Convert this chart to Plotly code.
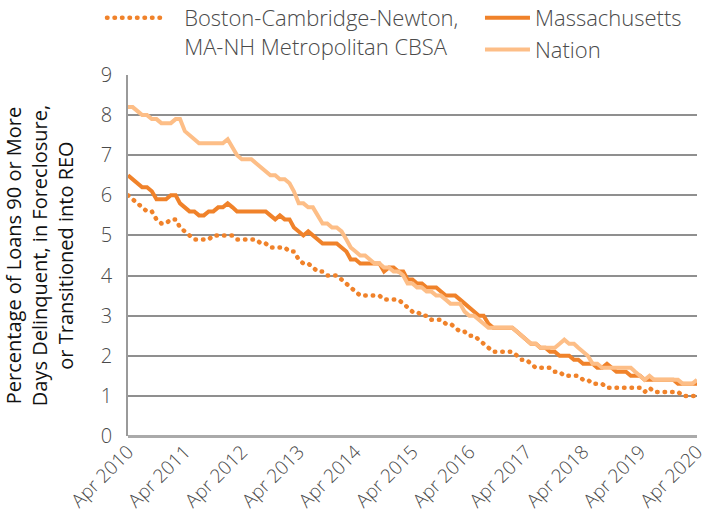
import pandas as pd
import plotly.graph_objects as go

start_month = "2010-04-01"

nation = [
    8.2, 8.2, 8.1, 8.0, 8.0, 7.9, 7.9, 7.8, 7.8, 7.8, 7.9, 7.9,
    7.6, 7.5, 7.4, 7.3, 7.3, 7.3, 7.3, 7.3, 7.3, 7.4, 7.2, 7.0,
    6.9, 6.9, 6.9, 6.8, 6.7, 6.6, 6.5, 6.5, 6.4, 6.4, 6.3, 6.1,
    5.8, 5.8, 5.7, 5.7, 5.5, 5.3, 5.3, 5.2, 5.2, 5.1, 4.9, 4.7,
    4.6, 4.5, 4.5, 4.4, 4.3, 4.3, 4.2, 4.2, 4.1, 4.1, 4.0, 3.8,
    3.8, 3.7, 3.7, 3.6, 3.6, 3.5, 3.5, 3.4, 3.3, 3.3, 3.3, 3.1,
    3.0, 3.0, 2.9, 2.8, 2.7, 2.7, 2.7, 2.7, 2.7, 2.7, 2.6, 2.5,
    2.4, 2.3, 2.3, 2.2, 2.2, 2.2, 2.2, 2.3, 2.4, 2.3, 2.3, 2.2,
    2.1, 2.0, 1.8, 1.8, 1.7, 1.7, 1.7, 1.7, 1.7, 1.7, 1.7, 1.6,
    1.5, 1.4, 1.5, 1.4, 1.4, 1.4, 1.4, 1.4, 1.4, 1.3, 1.3, 1.3, 1.4,
]

massachusetts = [
    6.5, 6.4, 6.3, 6.2, 6.2, 6.1, 5.9, 5.9, 5.9, 6.0, 6.0, 5.8,
    5.7, 5.6, 5.6, 5.5, 5.5, 5.6, 5.6, 5.7, 5.7, 5.8, 5.7, 5.6,
    5.6, 5.6, 5.6, 5.6, 5.6, 5.6, 5.5, 5.4, 5.5, 5.4, 5.4, 5.2,
    5.1, 5.0, 5.1, 5.0, 4.9, 4.8, 4.8, 4.8, 4.8, 4.7, 4.6, 4.4,
    4.4, 4.3, 4.3, 4.3, 4.3, 4.3, 4.1, 4.2, 4.2, 4.1, 4.1, 3.9,
    3.9, 3.8, 3.8, 3.7, 3.7, 3.7, 3.6, 3.5, 3.5, 3.5, 3.4, 3.3,
    3.2, 3.1, 3.0, 3.0, 2.8, 2.7, 2.7, 2.7, 2.7, 2.7, 2.6, 2.5,
    2.4, 2.3, 2.3, 2.2, 2.2, 2.1, 2.1, 2.0, 2.0, 2.0, 1.9, 1.9,
    1.8, 1.8, 1.8, 1.7, 1.7, 1.8, 1.7, 1.6, 1.6, 1.6, 1.5, 1.5,
    1.5, 1.4, 1.4, 1.4, 1.4, 1.4, 1.4, 1.4, 1.3, 1.3, 1.3, 1.3, 1.3,
]

boston = [
    6.0, 5.9, 5.8, 5.7, 5.6, 5.6, 5.4, 5.3, 5.3, 5.4, 5.4, 5.2,
    5.1, 5.0, 4.9, 4.9, 4.9, 4.9, 5.0, 5.0, 5.0, 5.0, 5.0, 4.9,
    4.9, 4.9, 4.9, 4.9, 4.8, 4.8, 4.7, 4.7, 4.7, 4.7, 4.6, 4.6,
    4.4, 4.3, 4.3, 4.2, 4.1, 4.1, 4.0, 4.0, 4.0, 3.9, 3.8, 3.7,
    3.6, 3.5, 3.5, 3.5, 3.5, 3.5, 3.4, 3.4, 3.4, 3.4, 3.3, 3.2,
    3.1, 3.1, 3.0, 3.0, 2.9, 2.9, 2.9, 2.8, 2.8, 2.7, 2.6, 2.6,
    2.5, 2.5, 2.4, 2.3, 2.2, 2.1, 2.1, 2.1, 2.1, 2.1, 2.0, 1.9,
    1.9, 1.8, 1.7, 1.7, 1.7, 1.7, 1.6, 1.6, 1.5, 1.5, 1.5, 1.5,
    1.4, 1.4, 1.3, 1.3, 1.3, 1.2, 1.2, 1.2, 1.2, 1.2, 1.2, 1.2,
    1.2, 1.1, 1.2, 1.1, 1.1, 1.1, 1.1, 1.1, 1.1, 1.0, 1.0, 1.0, 1.0,
]

tick_dates = ["2010-04-01", "2011-04-01", "2012-04-01", "2013-04-01", "2014-04-01",
              "2015-04-01", "2016-04-01", "2017-04-01", "2018-04-01", "2019-04-01",
              "2020-04-01"]
tick_labels = ["Apr 2010", "Apr 2011", "Apr 2012", "Apr 2013", "Apr 2014", "Apr 2015",
               "Apr 2016", "Apr 2017", "Apr 2018", "Apr 2019", "Apr 2020"]
y_ticks = [0, 1, 2, 3, 4, 5, 6, 7, 8, 9]

dates = pd.date_range(start_month, periods=len(nation), freq="MS")

DARK = "#F0822A"
LIGHT = "#FDBE87"
FONT = "Open Sans"
GRAY = "#4a4a4a"
PAD = "\u00a0\u00a0\u00a0"

fig = go.Figure()
fig.add_trace(go.Scatter(
    x=dates, y=boston, mode="lines",
    name=PAD + "Boston-Cambridge-Newton,<br>" + PAD + "MA-NH Metropolitan CBSA",
    line=dict(color=DARK, width=4.5, dash="0.5px,7px"),
    legend="legend", showlegend=True,
))
fig.add_trace(go.Scatter(
    x=dates, y=massachusetts, mode="lines", name="Massachusetts",
    line=dict(color=DARK, width=4), legend="legend2", showlegend=True,
))
fig.add_trace(go.Scatter(
    x=dates, y=nation, mode="lines", name="Nation",
    line=dict(color=LIGHT, width=4), legend="legend2", showlegend=True,
))

fig.update_layout(
    width=710, height=529,
    margin=dict(l=128, r=13, t=75, b=93, autoexpand=False),
    paper_bgcolor="white", plot_bgcolor="white",
    showlegend=True,
    font=dict(family=FONT, size=19, color=GRAY, weight=300),
    legend=dict(
        x=-0.0457, y=1.216, xanchor="left", yanchor="top",
        bgcolor="rgba(0,0,0,0)", valign="top", itemwidth=55,
        font=dict(family=FONT, size=22, color=GRAY, weight=300),
    ),
    legend2=dict(
        x=0.6186, y=1.216, xanchor="left", yanchor="top",
        bgcolor="rgba(0,0,0,0)", itemwidth=45,
        font=dict(family=FONT, size=22, color=GRAY, weight=300),
    ),
    xaxis=dict(
        type="date",
        range=[tick_dates[0], tick_dates[-1]],
        tickvals=tick_dates, ticktext=tick_labels,
        tickangle=-45, showgrid=False, zeroline=False,
        showline=False, ticks="", automargin=False,
        tickfont=dict(family=FONT, size=19, color=GRAY, weight=300),
    ),
    yaxis=dict(
        range=[0, 9], tickvals=y_ticks, ticks="",
        showgrid=True, gridcolor="#8f8f8f", gridwidth=1.5,
        zeroline=True, zerolinecolor="#aaaaaa", zerolinewidth=2.5,
        showline=True, linecolor="#9a9a9a", linewidth=1.5,
        ticklabelstandoff=10,
        tickfont=dict(family=FONT, size=20, color=GRAY, weight=300),
        title=dict(
            text="Percentage of Loans 90 or More<br>Days Delinquent, in Foreclosure,<br>or Transitioned into REO",
            font=dict(family=FONT, size=20, color="#111111", weight=400),
            standoff=22,
        ),
    ),
)

post = """
document.body.style.margin = '0';
document.body.style.overflow = 'hidden';
var fix = function(){
  document.querySelectorAll('.scatterlayer .trace:first-child path.js-line').forEach(function(p){
    p.style.strokeLinecap = 'round';
  });
  document.querySelectorAll('.legend path.js-line').forEach(function(p){
    var d = p.style.strokeDasharray;
    if (d && d !== 'none' && d !== '') { p.style.strokeLinecap = 'round'; }
  });
};
fix();
setTimeout(fix, 200);
"""

fig.write_html("out.html", post_script=post, config={"displayModeBar": False})
